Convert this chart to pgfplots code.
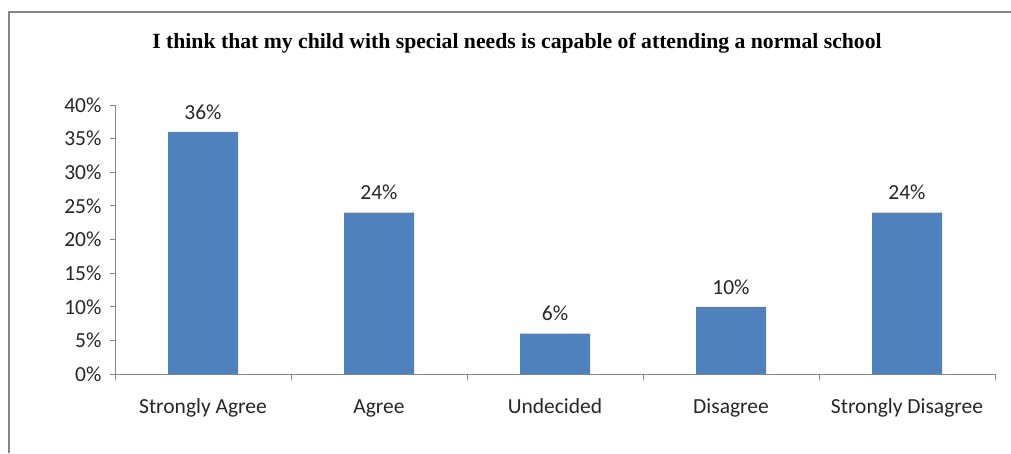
\documentclass[border=0pt]{standalone}
\usepackage{pgfplots}
\pgfplotsset{compat=1.18}
\usepackage{fontspec}
\setmainfont{Carlito}
\newfontfamily\titlefont{Liberation Serif}
\definecolor{barblue}{HTML}{4F81BD}
\definecolor{axgray}{HTML}{868686}
\begin{document}
\begin{tikzpicture}[x=1pt,y=1pt]
\path[use as bounding box] (0,0) rectangle (1011,-453);
\draw[axgray, line width=2.2pt] (9,-453) -- (9,-12) -- (1011,-12);
\node[font=\titlefont\bfseries\fontsize{21.7}{24}\selectfont] at (517,-43) {I think that my child with special needs is capable of attending a normal school};
\begin{axis}[
  at={(115pt,-374pt)}, anchor=south west,
  scale only axis, width=880pt, height=269pt,
  xmin=-0.5, xmax=4.5, ymin=0, ymax=40,
  axis x line*=bottom, axis y line*=left,
  axis line style={axgray, line width=1pt, -},
  xtick={0,1,2,3,4},
  xticklabels={Strongly Agree,Agree,Undecided,Disagree,Strongly Disagree},
  major x tick style={draw=none},
  minor xtick={-0.5,0.5,1.5,2.5,3.5,4.5},
  minor tick length=6pt,
  ytick={0,5,...,40},
  yticklabels={0\%,5\%,10\%,15\%,20\%,25\%,30\%,35\%,40\%},
  major tick length=5pt,
  tick align=outside,
  tick style={axgray, line width=1pt},
  ticklabel style={font=\fontsize{21.5}{24}\selectfont, text=black!85},
  yticklabel style={xshift=-5pt},
  xticklabel style={yshift=-23pt, text height=1.6ex, text depth=0.5ex},
  /pgf/number format/assume math mode=true,
  ybar, bar width=70pt,
  nodes near coords={\pgfmathprintnumber{\pgfplotspointmeta}\%},
  nodes near coords style={font=\fontsize{21.5}{24}\selectfont, text=black!85, yshift=9pt},
  clip=false,
]
\addplot[fill=barblue, draw=none] coordinates {(0,36) (1,24) (2,6) (3,10) (4,24)};
\end{axis}
\end{tikzpicture}
\end{document}
